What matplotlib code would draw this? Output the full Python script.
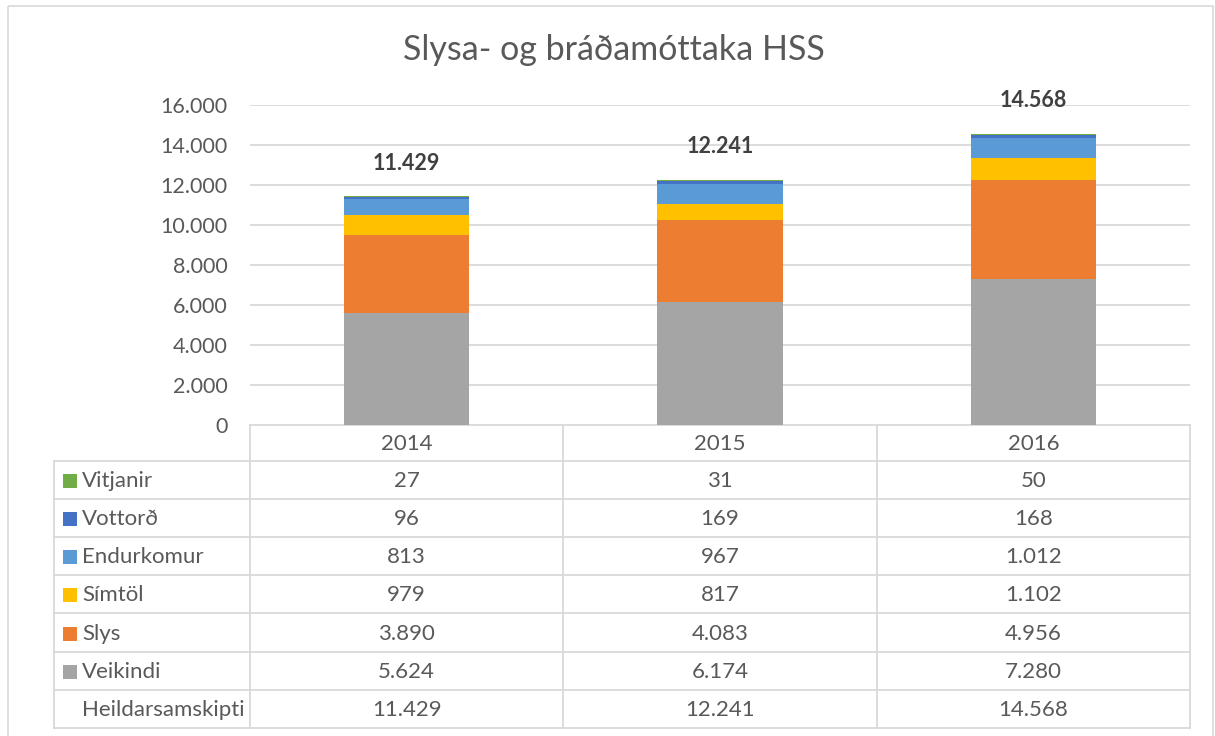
import numpy as np
import matplotlib
matplotlib.use("Agg")
import matplotlib.pyplot as plt
from matplotlib.patches import Rectangle

plt.rcParams["font.family"] = ["Lato", "DejaVu Sans"]

# Data
years = ["2014", "2015", "2016"]
series_names = ["Veikindi", "Slys", "Símtöl", "Endurkomur", "Vottorð", "Vitjanir"]
veikindi = [5624, 6174, 7280]
slys = [3890, 4083, 4956]
simtol = [979, 817, 1102]
endurkomur = [813, 967, 1012]
vottord = [96, 169, 168]
vitjanir = [27, 31, 50]
totals = [11429, 12241, 14568]
yticks = [0, 2000, 4000, 6000, 8000, 10000, 12000, 14000, 16000]

colors = ["#A5A5A5", "#ED7D31", "#FFC000", "#5B9BD5", "#4472C4", "#70AD47"]
TXT = "#595959"
GRID = "#D9D9D9"


def fmt(v):
    return f"{v:,}".replace(",", ".")


W, H = 1215, 736
fig = plt.figure(figsize=(W / 100, H / 100), dpi=100)

# main plot area in pixel layout
left, right, top, bottom = 250, 1190, 105, 425
ax = fig.add_axes([left / W, 1 - bottom / H, (right - left) / W, (bottom - top) / H])

values = [veikindi, slys, simtol, endurkomur, vottord, vitjanir]
x = np.arange(len(years))
base = np.zeros(len(years))
for vals, c, name in zip(values, colors, series_names):
    ax.bar(x, vals, width=0.4, bottom=base, color=c, label=name, zorder=3)
    base += np.array(vals)

for xi, t in zip(x, totals):
    ax.annotate(fmt(t), (xi, t), xytext=(0, 24), textcoords="offset points",
                ha="center", va="center", fontsize=15.5, fontweight="bold", color="#404040")

ax.set_xlim(-0.5, len(years) - 0.5)
ax.set_ylim(0, 16000)
ax.set_yticks(yticks)
ax.set_yticklabels([fmt(v) for v in yticks])
ax.tick_params(axis="y", length=0, pad=16, labelsize=15.5, labelcolor=TXT)
ax.set_xticks([])
ax.grid(axis="y", color=GRID, linewidth=1.3, zorder=0)
for s in ax.spines.values():
    s.set_visible(False)

# overlay in pixel coordinates for the data table, title and border
ov = fig.add_axes([0, 0, 1, 1], zorder=-1)
ov.set_xlim(0, W)
ov.set_ylim(H, 0)
ov.axis("off")

ov.add_patch(Rectangle((8, 6), W - 10, H, fill=False, edgecolor=GRID, linewidth=1.2))
ov.text(W / 2 + 6, 50, "Slysa- og bráðamóttaka HSS", ha="center", va="center",
        fontsize=24.5, color=TXT)

col_edges = [left + i * (right - left) / len(years) for i in range(len(years) + 1)]
row_edges = [425, 461, 499, 537, 575, 613, 652, 690, 728]
lab_left = 54
tc = dict(color=GRID, linewidth=1.3)

# header row (years)
ov.plot([left, right], [row_edges[0]] * 2, **tc)
for r in row_edges[1:]:
    ov.plot([lab_left, right], [r, r], **tc)
for cx in col_edges:
    ov.plot([cx, cx], [row_edges[0], row_edges[-1]], **tc)
ov.plot([lab_left, lab_left], [row_edges[1], row_edges[-1]], **tc)

for i, yr in enumerate(years):
    ov.text((col_edges[i] + col_edges[i + 1]) / 2, (row_edges[0] + row_edges[1]) / 2 + 1,
            yr, ha="center", va="center", fontsize=16, color=TXT)

# table rows: top series first, then totals
rows = list(zip(series_names, values, colors))[::-1] + [("Heildarsamskipti", totals, None)]
for j, (name, vals, c) in enumerate(rows):
    yc = (row_edges[j + 1] + row_edges[j + 2]) / 2 + 1
    if c is not None:
        ov.add_patch(Rectangle((63, yc - 7), 14, 14, facecolor=c, edgecolor="none"))
    ov.text(82, yc, name, ha="left", va="center", fontsize=16, color=TXT)
    for i, v in enumerate(vals):
        ov.text((col_edges[i] + col_edges[i + 1]) / 2, yc, fmt(v),
                ha="center", va="center", fontsize=16, color=TXT)

fig.savefig("out.png", dpi=100)
